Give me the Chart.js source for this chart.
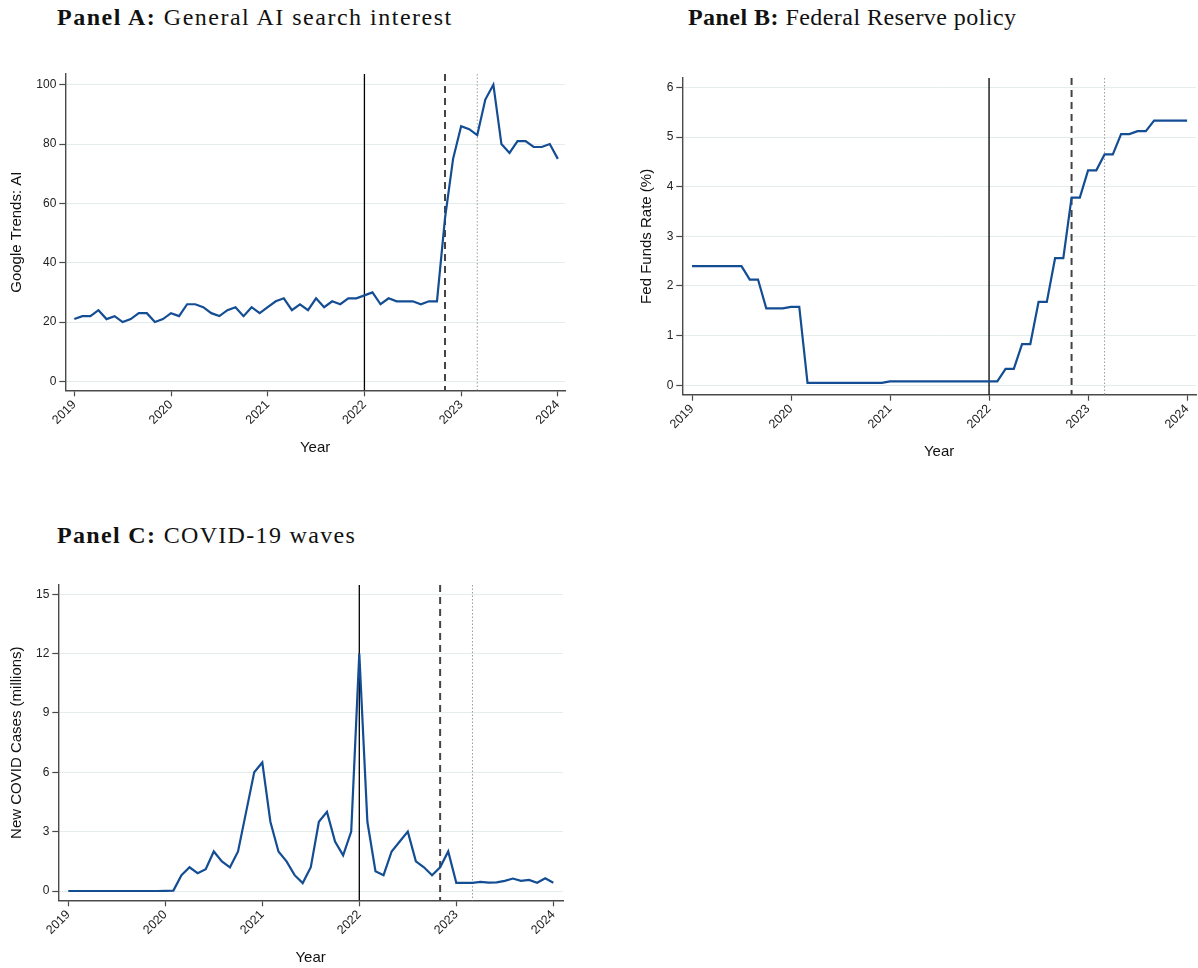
<!DOCTYPE html>
<html>
<head>
<meta charset="utf-8">
<title>AI interest, Fed policy and COVID waves</title>
<script src="https://cdn.jsdelivr.net/npm/chart.js@4.4.1/dist/chart.umd.min.js"></script>
<style>
  html, body { margin: 0; padding: 0; background: #ffffff; }
  body { width: 1198px; height: 968px; position: relative; overflow: hidden; }
  .panel-title {
    position: absolute;
    font-family: "Liberation Serif", "DejaVu Serif", serif;
    font-size: 24px;
    line-height: 24px;
    color: #111;
    white-space: nowrap;
  }
  .panel-title b { font-weight: bold; }
  canvas { position: absolute; }
</style>
</head>
<body>

<div class="panel-title" style="left:57px; top:5px; letter-spacing:1.5px;"><b>Panel A:</b> General AI search interest</div>
<div class="panel-title" style="left:688px; top:5px; letter-spacing:0.45px;"><b>Panel B:</b> Federal Reserve policy</div>
<div class="panel-title" style="left:57px; top:523px; letter-spacing:1.33px;"><b>Panel C:</b> COVID-19 waves</div>

<canvas id="chartA" width="580" height="410" style="left:0px; top:60px;"></canvas>
<canvas id="chartB" width="598" height="410" style="left:600px; top:60px;"></canvas>
<canvas id="chartC" width="580" height="398" style="left:0px; top:570px;"></canvas>

<script>
// ---- Data -----------------------------------------------------------------
// Monthly observations, January 2019 through January 2024 (61 months).
const firstYear = 2019;
const monthCount = 61;
const monthLabels = [];
for (let i = 0; i < monthCount; i++) {
  const y = firstYear + Math.floor(i / 12);
  const m = (i % 12) + 1;
  monthLabels.push(y + '-' + String(m).padStart(2, '0'));
}

// Google Trends index for "AI"
const aiSearchInterest = [
  21, 22, 22, 24, 21, 22, 20, 21, 23, 23, 20, 21,
  23, 22, 26, 26, 25, 23, 22, 24, 25, 22, 25, 23,
  25, 27, 28, 24, 26, 24, 28, 25, 27, 26, 28, 28,
  29, 30, 26, 28, 27, 27, 27, 26, 27, 27, 55, 75,
  86, 85, 83, 95, 100, 80, 77, 81, 81, 79, 79, 80,
  75
];

// Effective federal funds rate (%)
const fedFundsRate = [
  2.40, 2.40, 2.40, 2.40, 2.40, 2.40, 2.40, 2.13, 2.13, 1.55, 1.55, 1.55,
  1.58, 1.58, 0.05, 0.05, 0.05, 0.05, 0.05, 0.05, 0.05, 0.05, 0.05, 0.05,
  0.08, 0.08, 0.08, 0.08, 0.08, 0.08, 0.08, 0.08, 0.08, 0.08, 0.08, 0.08,
  0.08, 0.08, 0.33, 0.33, 0.83, 0.83, 1.68, 1.68, 2.56, 2.56, 3.78, 3.78,
  4.33, 4.33, 4.65, 4.65, 5.06, 5.06, 5.12, 5.12, 5.33, 5.33, 5.33, 5.33,
  5.33
];

// New COVID cases (millions)
const covidCases = [
  0, 0, 0, 0, 0, 0, 0, 0, 0, 0, 0, 0,
  0.01, 0.02, 0.8, 1.2, 0.9, 1.1, 2.0, 1.5, 1.2, 2.0, 4.0, 6.0,
  6.5, 3.5, 2.0, 1.5, 0.8, 0.4, 1.2, 3.5, 4.0, 2.5, 1.8, 3.0,
  12.0, 3.5, 1.0, 0.8, 2.0, 2.5, 3.0, 1.5, 1.2, 0.8, 1.2, 2.0,
  0.41, 0.41, 0.41, 0.46, 0.42, 0.44, 0.51, 0.63, 0.51, 0.56, 0.42, 0.64,
  0.42
];

// Reference months marked with vertical lines
const eventMonths = ['2022-01', '2022-11', '2023-03'];
const eventStyles = ['solid', 'dashed', 'dotted'];

// Tick labels
const yearTicks = [2019, 2020, 2021, 2022, 2023, 2024];
const aiTicks = [0, 20, 40, 60, 80, 100];
const fedTicks = [0, 1, 2, 3, 4, 5, 6];
const covidTicks = [0, 3, 6, 9, 12, 15];

// ---- Helpers --------------------------------------------------------------
function monthToYear(label) {
  const [y, m] = label.split('-').map(Number);
  return y + (m - 1) / 12;
}

function toPoints(values) {
  return values.map((v, i) => ({ x: monthToYear(monthLabels[i]), y: v }));
}

const SANS = '"Liberation Sans", Arial, Helvetica, sans-serif';
const AXIS_COLOR = '#4a4a4a';
const GRID_COLOR = '#e4ecee';
const LINE_COLOR = '#134d93';

// Vertical reference lines drawn on the x scale
const eventLinesPlugin = {
  id: 'eventLines',
  beforeDatasetsDraw(chart) {
    const { ctx, chartArea, scales } = chart;
    const xs = scales.x;
    ctx.save();
    eventMonths.forEach((label, i) => {
      const px = xs.getPixelForValue(monthToYear(label));
      const style = eventStyles[i];
      ctx.beginPath();
      if (style === 'solid') {
        ctx.strokeStyle = '#000000';
        ctx.lineWidth = 1.3;
        ctx.setLineDash([]);
      } else if (style === 'dashed') {
        ctx.strokeStyle = '#444444';
        ctx.lineWidth = 2;
        ctx.setLineDash([7, 5]);
      } else {
        ctx.strokeStyle = '#9a9a9a';
        ctx.lineWidth = 1;
        ctx.setLineDash([1.5, 2]);
      }
      ctx.moveTo(px, chartArea.top);
      ctx.lineTo(px, chartArea.bottom);
      ctx.stroke();
    });
    ctx.restore();
  }
};

function makePanel(id, values, cfg) {
  const ctx = document.getElementById(id);
  return new Chart(ctx, {
    type: 'line',
    data: {
      datasets: [{
        data: toPoints(values),
        borderColor: LINE_COLOR,
        borderWidth: 2.2,
        pointRadius: 0,
        tension: 0,
        fill: false
      }]
    },
    options: {
      responsive: false,
      animation: false,
      layout: { padding: cfg.padding },
      plugins: {
        legend: { display: false },
        tooltip: { enabled: false },
        title: { display: false }
      },
      scales: {
        x: {
          type: 'linear',
          min: cfg.xMin,
          max: cfg.xMax,
          afterBuildTicks: s => { s.ticks = yearTicks.map(v => ({ value: v })); },
          afterFit: s => {
            s.height = cfg.xHeight;
            s.paddingLeft = 0; s.paddingRight = 0;
          },
          grid: {
            drawOnChartArea: false,
            drawTicks: true,
            tickLength: 6,
            tickColor: AXIS_COLOR,
            tickWidth: 1.2
          },
          border: { display: true, color: AXIS_COLOR, width: 1.4 },
          ticks: {
            minRotation: 45,
            maxRotation: 45,
            autoSkip: false,
            padding: 1,
            color: '#222',
            font: { family: SANS, size: 12.5 },
            callback: v => String(v)
          },
          title: {
            display: true,
            text: 'Year',
            color: '#111',
            font: { family: SANS, size: 15 },
            padding: { top: 0, bottom: cfg.xTitlePad }
          }
        },
        y: {
          type: 'linear',
          min: cfg.yMin,
          max: cfg.yMax,
          afterBuildTicks: s => { s.ticks = cfg.yTicks.map(v => ({ value: v })); },
          afterFit: s => {
            s.width = cfg.yWidth;
            s.paddingTop = 0; s.paddingBottom = 0;
          },
          grid: {
            color: GRID_COLOR,
            lineWidth: 1,
            drawTicks: true,
            tickLength: 6,
            tickColor: AXIS_COLOR,
            tickWidth: 1.2
          },
          border: { display: true, color: AXIS_COLOR, width: 1.4 },
          ticks: {
            padding: 3,
            color: '#222',
            font: { family: SANS, size: 12 },
            callback: v => String(v)
          },
          title: {
            display: true,
            text: cfg.yTitle,
            color: '#111',
            font: { family: SANS, size: 15 },
            padding: { top: cfg.yTitlePad, bottom: 0 }
          }
        }
      }
    },
    plugins: [eventLinesPlugin]
  });
}

// ---- Panels ---------------------------------------------------------------
makePanel('chartA', aiSearchInterest, {
  padding: { top: 14, right: 15, left: 0, bottom: 0 },
  xMin: 2018.907, xMax: 2024.074, xHeight: 79.7, xTitlePad: 13,
  yMin: -3.0, yMax: 103.6, yWidth: 65.3, yTitlePad: 8,
  yTicks: aiTicks, yTitle: 'Google Trends: AI'
});

makePanel('chartB', fedFundsRate, {
  padding: { top: 18, right: 2, left: 0, bottom: 0 },
  xMin: 2018.902, xMax: 2024.09, xHeight: 75.3, xTitlePad: 9,
  yMin: -0.19, yMax: 6.19, yWidth: 82.3, yTitlePad: 38,
  yTicks: fedTicks, yTitle: 'Fed Funds Rate (%)'
});

makePanel('chartC', covidCases, {
  padding: { top: 15, right: 17, left: 0, bottom: 0 },
  xMin: 2018.897, xMax: 2024.10, xHeight: 67.7, xTitlePad: 1,
  yMin: -0.47, yMax: 15.47, yWidth: 58.3, yTitlePad: 8,
  yTicks: covidTicks, yTitle: 'New COVID Cases (millions)'
});
</script>
</body>
</html>
